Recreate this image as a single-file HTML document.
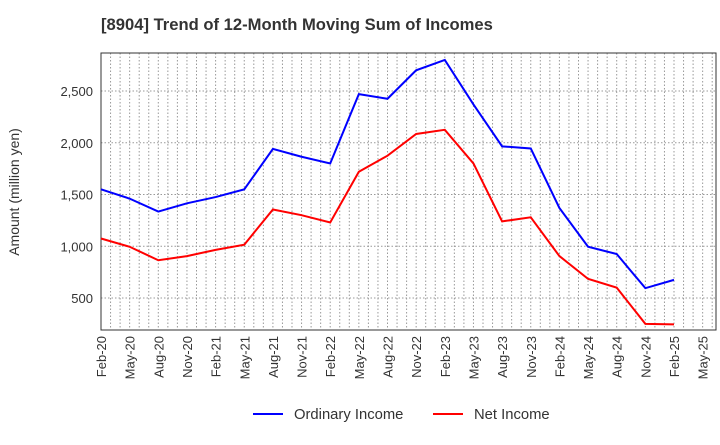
<!DOCTYPE html>
<html><head><meta charset="utf-8"><style>
body{margin:0;background:#fff;font-family:"Liberation Sans",sans-serif}
</style></head><body>
<svg id="c" width="720" height="440" xmlns="http://www.w3.org/2000/svg" font-family="Liberation Sans, sans-serif">
<text x="101" y="30" font-size="16.6" font-weight="bold" fill="#333">[8904]  Trend of 12-Month Moving Sum of Incomes</text>
<g id="grid"></g><g id="axes"></g><g id="series"></g>
<text transform="translate(19,192) rotate(-90)" text-anchor="middle" font-size="14" fill="#333">Amount (million yen)</text>
<g>
<line x1="253" y1="414" x2="283" y2="414" stroke="#0000ff" stroke-width="2"/>
<text x="294" y="419" font-size="14.8" fill="#333">Ordinary Income</text>
<line x1="433" y1="414" x2="463" y2="414" stroke="#ff0000" stroke-width="2"/>
<text x="474" y="419" font-size="14.8" fill="#333">Net Income</text>
</g>
</svg>
<script>
const xLabels=["Feb-20","May-20","Aug-20","Nov-20","Feb-21","May-21","Aug-21","Nov-21","Feb-22","May-22","Aug-22","Nov-22","Feb-23","May-23","Aug-23","Nov-23","Feb-24","May-24","Aug-24","Nov-24","Feb-25","May-25"];
const ordinary=[1550,1460,1335,1415,1475,1550,1940,1865,1800,2470,2425,2700,2800,2370,1965,1945,1370,995,925,595,675];
const net=[1075,995,865,905,965,1015,1355,1300,1230,1720,1875,2085,2125,1800,1240,1280,905,685,600,250,245];
const yTicks=[500,1000,1500,2000,2500];
const L=101,R=716,T=53,B=330,M=9.55;
const x=i=>L+i*3*M;
const y=v=>298-(v-500)*51.75/500;
const ns="http://www.w3.org/2000/svg";
function mk(p,t,a){const e=document.createElementNS(ns,t);for(const k in a)e.setAttribute(k,a[k]);p.appendChild(e);return e;}
const g=document.getElementById('grid'),ax=document.getElementById('axes'),s=document.getElementById('series');
for(let m=1;L+m*M<R;m++){const l=mk(g,'line',{x1:L+m*M,x2:L+m*M,y1:T,y2:B,stroke:'#999','stroke-dasharray':'1.5,2','stroke-width':1});

}
yTicks.forEach(v=>{const l=mk(g,'line',{x1:L,x2:R,y1:y(v),y2:y(v),stroke:'#999','stroke-dasharray':'1.5,2'});


const t=mk(ax,'text',{x:L-8,y:y(v)+5,'text-anchor':'end','font-size':13,fill:'#333'});t.textContent=v.toLocaleString('en-US');

});
const fr=mk(ax,'rect',{x:L,y:T,width:R-L,height:B-T,fill:'none',stroke:'#333','stroke-width':1});


xLabels.forEach((lb,i)=>{const t=mk(ax,'text',{transform:`translate(${x(i)+5},${B+6}) rotate(-90)`,'text-anchor':'end','font-size':13,fill:'#333'});t.textContent=lb;

});
function line(d,c,n){const p=mk(s,'polyline',{points:d.map((v,i)=>x(i)+','+y(v)).join(' '),fill:'none',stroke:c,'stroke-width':2});

}
line(ordinary,'#0000ff','ordinary-income-line');
line(net,'#ff0000','net-income-line');
</script>
</body></html>
